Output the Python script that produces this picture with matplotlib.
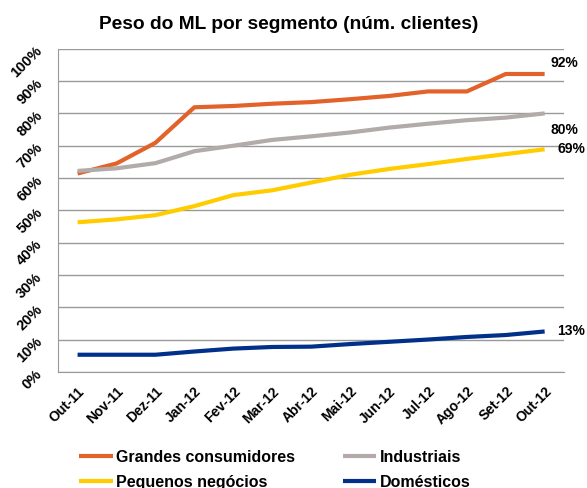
import numpy as np
import matplotlib
matplotlib.use("Agg")
import matplotlib.pyplot as plt

plt.rcParams['font.family'] = ['Liberation Sans', 'DejaVu Sans']
plt.rcParams['font.weight'] = 'bold'

months = ["Out-11", "Nov-11", "Dez-11", "Jan-12", "Fev-12", "Mar-12", "Abr-12",
          "Mai-12", "Jun-12", "Jul-12", "Ago-12", "Set-12", "Out-12"]

grandes = [61.4, 64.5, 70.9, 81.9, 82.3, 83.0, 83.5, 84.4, 85.4, 86.8, 86.8, 92.2, 92.2]
industriais = [62.2, 63.0, 64.6, 68.3, 70.0, 71.8, 72.9, 74.1, 75.6, 76.8, 77.9, 78.7, 80.0]
pequenos = [46.3, 47.2, 48.5, 51.3, 54.7, 56.2, 58.6, 61.0, 62.8, 64.3, 65.9, 67.4, 68.9]
domesticos = [5.3, 5.3, 5.3, 6.3, 7.2, 7.7, 7.8, 8.6, 9.3, 10.0, 10.8, 11.4, 12.5]

end_labels = ["92%", "80%", "69%", "13%"]

series = [
    ("Grandes consumidores", grandes, "#E2622A"),
    ("Industriais", industriais, "#B3AAAA"),
    ("Pequenos negócios", pequenos, "#FFCC00"),
    ("Domésticos", domesticos, "#00308A"),
]

fig = plt.figure(figsize=(5.87, 4.88), dpi=100)
ax = fig.add_axes([0.099, 0.238, 0.862, 0.662])

x = np.arange(len(months))
lines = {}
for name, vals, col in series:
    ln, = ax.plot(x, vals, color=col, lw=3, solid_capstyle='butt', label=name)
    lines[name] = ln

ax.set_xlim(-0.5, len(months) - 0.5)
ax.set_ylim(0, 100)
ax.set_yticks(np.arange(0, 101, 10))
ax.set_yticklabels([f"{v}%" for v in range(0, 101, 10)], rotation=45,
                   ha='right', va='center', rotation_mode='anchor', fontsize=10.5)
ax.set_xticks(x)
ax.set_xticklabels(months, rotation=45, ha='right', va='top',
                   rotation_mode='anchor', fontsize=10)
ax.tick_params(axis='y', length=0, pad=13)
ax.tick_params(axis='x', length=0, pad=9)
ax.yaxis.grid(True, color='#999999', lw=1)
ax.set_axisbelow(True)
for s in ['top', 'right']:
    ax.spines[s].set_visible(False)
for s in ['left', 'bottom']:
    ax.spines[s].set_color('#999999')

offsets = [(4, 8), (4, -12), (9, 0), (9, 0)]
for (name, vals, col), lab, off in zip(series, end_labels, offsets):
    ax.annotate(lab, (x[-1], vals[-1]), xytext=off, textcoords='offset points',
                ha='left', va='center', fontsize=10)

fig.suptitle("Peso do ML por segmento (núm. clientes)", x=0.492, y=0.968,
             fontsize=13.8, fontweight='bold')

# column-major fill, so order gives rows: Grandes/Industriais, Pequenos/Domésticos
order = ["Grandes consumidores", "Pequenos negócios", "Industriais", "Domésticos"]
fig.legend([lines[n] for n in order], order, ncol=2, loc='upper left',
           bbox_to_anchor=(0.135, 0.078), frameon=False, fontsize=11.5,
           handlelength=2.1, handletextpad=0.2, columnspacing=3.0,
           labelspacing=0.6, borderaxespad=0, borderpad=0)

fig.savefig("out.png", dpi=100)
